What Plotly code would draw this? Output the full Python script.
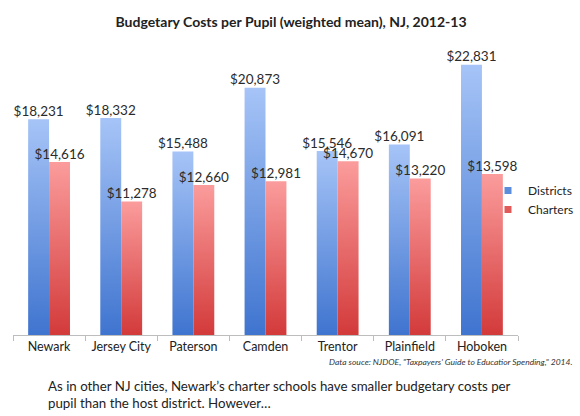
import plotly.graph_objects as go

# Budgetary cost per pupil (weighted mean), NJ 2012-13
cities = ["Newark", "Jersey City", "Paterson", "Camden", "Trenton", "Plainfield", "Hoboken"]
city_labels = ["Newark", "Jersey City", "Paterson", "Camden", "Trentor", "Plainfield", "Hoboken"]
districts = [18231, 18332, 15488, 20873, 15546, 16091, 22831]
charters = [14616, 11278, 12660, 12981, 14670, 13220, 13598]

W, H = 580, 416
M_L, M_R, M_T, M_B = 13, 62, 39, 81
PLOT_W = W - M_L - M_R
PLOT_H = H - M_T - M_B


def px_x(p):
    return (p - M_L) / PLOT_W


def px_y(p):
    return (H - M_B - p) / PLOT_H


BAR_W = 0.29
series = [
    ("Districts", districts, -BAR_W / 2, "#3f74cf", "#a6c4f7", "#5b8ddb"),
    ("Charters", charters, BAR_W / 2, "#d33a3a", "#fb9c9c", "#e05a5a"),
]

fig = go.Figure()

for name, vals, off, c_bot, c_top, c_mid in series:
    # one filled polygon per bar so each bar carries its own vertical gradient
    for i, v in enumerate(vals):
        x0, x1 = i + off - BAR_W / 2, i + off + BAR_W / 2
        fig.add_trace(go.Scatter(
            x=[x0, x1, x1, x0, x0], y=[0, 0, v, v, 0],
            mode="lines", line=dict(width=0), fill="toself",
            fillgradient=dict(type="vertical", colorscale=[[0, c_bot], [1, c_top]]),
            hoverinfo="skip", showlegend=False,
        ))
    # value labels
    fig.add_trace(go.Scatter(
        x=[i + off for i in range(len(vals))], y=vals,
        mode="text", text=[f"${v:,}" for v in vals],
        textposition="top center",
        textfont=dict(family="Lato", size=13.5, color="#2b2b2b"),
        hoverinfo="skip", showlegend=False,
    ))
    # legend swatch
    fig.add_trace(go.Scatter(
        x=[None], y=[None], mode="markers", name=name,
        marker=dict(symbol="square", size=7, color=c_mid),
    ))

fig.update_layout(
    width=W, height=H,
    margin=dict(l=M_L, r=M_R, t=M_T, b=M_B, autoexpand=False),
    paper_bgcolor="white", plot_bgcolor="white",
    font=dict(family="Lato", color="#222"),
    title=dict(
        text="<b>Budgetary Costs per Pupil (weighted mean), NJ, 2012-13</b>",
        x=291 / W, xanchor="center", xref="container",
        y=1 - 22 / H, yanchor="middle", yref="container",
        font=dict(family="Lato", size=14, color="#222"),
    ),
    showlegend=True,
    legend=dict(
        x=px_x(488), y=px_y(200), xanchor="left", yanchor="middle",
        bgcolor="rgba(0,0,0,0)", itemwidth=30, tracegroupgap=2,
        font=dict(family="Lato", size=12, color="#222"),
    ),
    xaxis=dict(
        range=[-0.5, len(cities) - 0.5], showgrid=False, zeroline=False,
        showline=True, linecolor="#bdbdbd", linewidth=1,
        tickmode="array", tickvals=list(range(len(cities))), ticktext=city_labels,
        ticks="", tickfont=dict(family="Lato", size=12.5, color="#222"),
        minor=dict(ticks="outside", tick0=-0.5, dtick=1, ticklen=5, tickcolor="#bdbdbd"),
        fixedrange=True,
    ),
    yaxis=dict(range=[0, 25000], visible=False, fixedrange=True),
)

fig.add_annotation(
    text="<i>Data souce: NJDOE, \"Taxpayers' Guide to Educatior Spending,\" 2014.</i>",
    xref="paper", yref="paper", x=px_x(574), y=px_y(362),
    xanchor="right", yanchor="middle", showarrow=False,
    font=dict(family="Lato", size=8.5, color="#333"),
)
fig.add_annotation(
    text="As in other NJ cities, Newark\u2019s charter schools have smaller budgetary costs per<br>"
         "pupil than the host district. However\u2026",
    xref="paper", yref="paper", x=px_x(46), y=px_y(376),
    xanchor="left", yanchor="top", align="left", showarrow=False,
    font=dict(family="Lato", size=13.3, color="#222"),
)

fig.write_html("out.html")
